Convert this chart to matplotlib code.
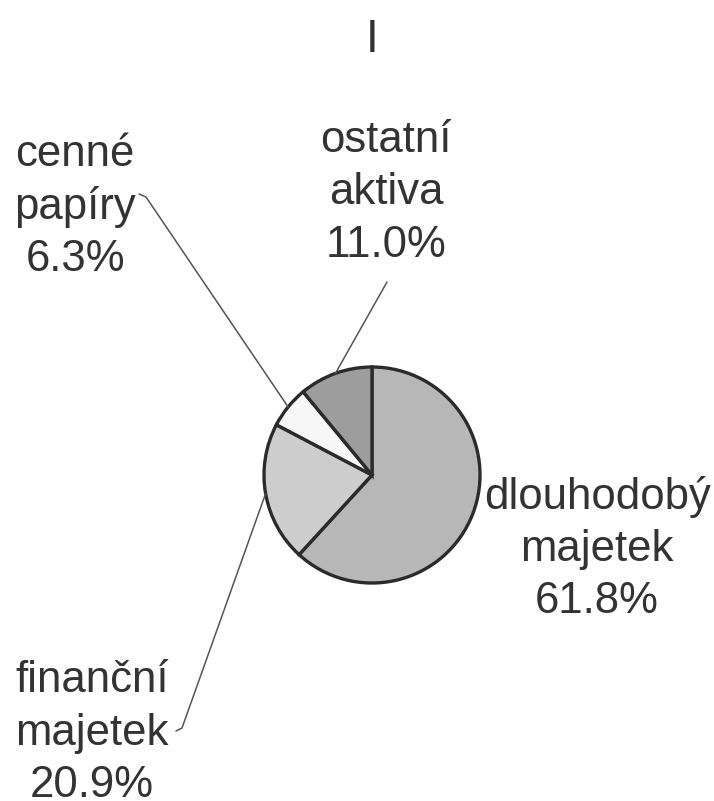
import numpy as np
import matplotlib
matplotlib.use("Agg")
import matplotlib.pyplot as plt

# ---- data ----
categories = ["dlouhodobý\nmajetek", "finanční\nmajetek", "cenné\npapíry", "ostatní\naktiva"]
values = [61.8, 20.9, 6.3, 11.0]
title = "I"

# ---- layout / style (pixel space, y measured from top) ----
W, H = 714, 801
colors = ["#b7b7b7", "#cdcdcd", "#f7f7f7", "#9d9d9d"]
center_px = (372, 475)
radius_px = 108
label_pos = [(597, 549), (92, 733), (75, 207), (386, 193)]     # text block centres
leader_end = [None, (182, 728), (146, 197), (387, 282)]         # end of leader near text
leader_hook = [None, (176, 731), (139, 194), None]

plt.rcParams['font.family'] = ['Liberation Sans', 'DejaVu Sans']
fig = plt.figure(figsize=(W / 100, H / 100), dpi=100)
ax = fig.add_axes([0, 0, 1, 1])

def Y(y):
    return H - y

wedges, _ = ax.pie(values, colors=colors, startangle=90, counterclock=False,
                   center=(center_px[0], Y(center_px[1])), radius=radius_px,
                   wedgeprops=dict(edgecolor="#2b2b2b", linewidth=2.4))
ax.set_xlim(0, W)
ax.set_ylim(0, H)
ax.set_aspect('equal')
ax.axis('off')

fs = 31.5
txt_color = "#333333"
for i, (cat, v) in enumerate(zip(categories, values)):
    lx, ly = label_pos[i]
    ax.text(lx, Y(ly), f"{cat}\n{v:.1f}%", ha='center', va='center',
            multialignment='center', fontsize=fs, color=txt_color, linespacing=1.35)
    if leader_end[i] is not None:
        w = wedges[i]
        mid = np.deg2rad((w.theta1 + w.theta2) / 2)
        cx, cy = w.center
        ex, ey = cx + w.r * np.cos(mid), cy + w.r * np.sin(mid)
        tx, ty = leader_end[i]
        xs = [ex, tx]
        ys = [ey, Y(ty)]
        if leader_hook[i] is not None:
            xs.append(leader_hook[i][0])
            ys.append(Y(leader_hook[i][1]))
        ax.plot(xs, ys, color="#555555", linewidth=1.1, solid_capstyle='round')

ax.text(372, Y(40), title, ha='center', va='center', fontsize=33, color=txt_color)

fig.savefig("out.png", dpi=100, facecolor="white")
